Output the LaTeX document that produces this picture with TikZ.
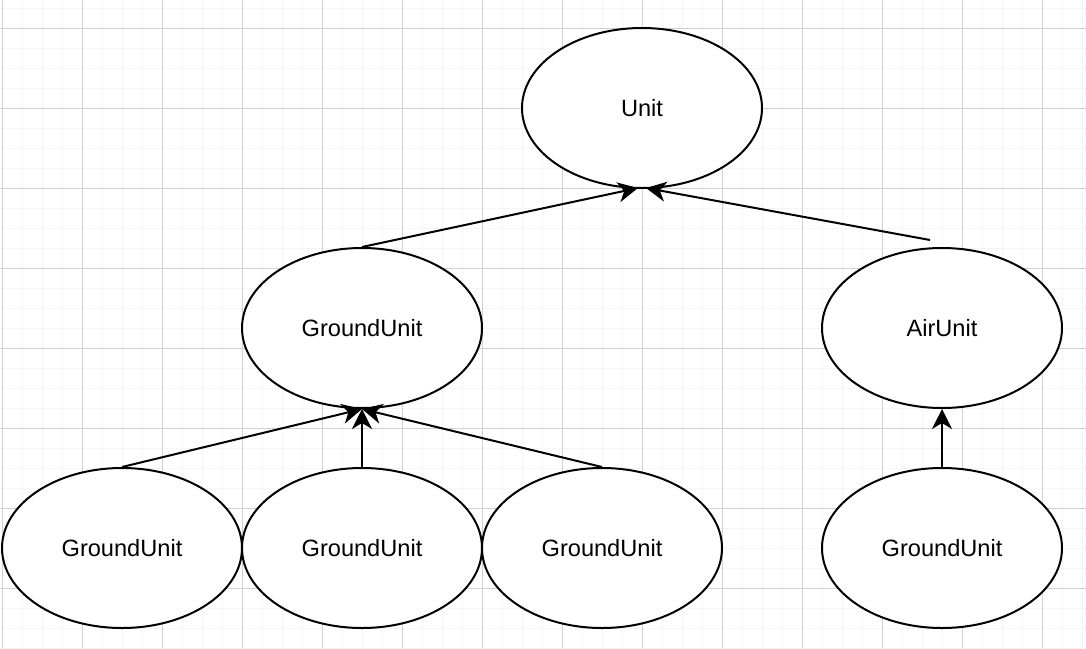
\documentclass[tikz,border=0pt]{standalone}
\usepackage{fontspec}
\setmainfont{Liberation Sans}
\usetikzlibrary{shapes.geometric,arrows.meta}
\definecolor{gridmajor}{HTML}{D0D0D0}
\definecolor{gridminor}{HTML}{F5F5F5}
\begin{document}
\begin{tikzpicture}[x=0.5pt, y=-0.5pt,
  unit/.style={draw, ellipse, line width=1pt, fill=white, inner sep=0pt,
    minimum width=120pt, minimum height=80pt, font=\fontsize{11.8}{14}\selectfont},
  inherit/.style={-{Stealth[length=10pt, width=10pt, inset=3pt]}, line width=1pt}]
\useasboundingbox (0,0) rectangle (1086,648);
\fill[white] (0,0) rectangle (1086,648);

% grid
\foreach \x in {2,22,...,1082}
  \draw[gridminor, line width=0.5pt] (\x,0)--(\x,648);
\foreach \y in {8,28,...,648}
  \draw[gridminor, line width=0.5pt] (0,\y)--(1086,\y);
\foreach \x in {2,82,...,1082}
  \draw[gridmajor, line width=0.5pt] (\x,0)--(\x,648);
\foreach \y in {28,108,...,648}
  \draw[gridmajor, line width=0.5pt] (0,\y)--(1086,\y);

% nodes
\node[unit] (unit) at (642,108) {Unit};
\node[unit] (ground) at (362,328) {GroundUnit};
\node[unit] (air) at (942,328) {AirUnit};
\node[unit] (groundA) at (122,548) {GroundUnit};
\node[unit] (groundB) at (362,548) {GroundUnit};
\node[unit] (groundC) at (602,548) {GroundUnit};
\node[unit] (groundD) at (942,548) {GroundUnit};
\coordinate (airtop) at (930,240);
\coordinate (unitleft) at (638,188);
\coordinate (unitright) at (646,188);

% arrows
\draw[inherit] (ground.north)--(unitleft);
\draw[inherit] (airtop)--(unitright);
\draw[inherit] (groundA.north)--(ground.south);
\draw[inherit] (groundB.north)--(ground.south);
\draw[inherit] (groundC.north)--(ground.south);
\draw[inherit] (groundD.north)--(air.south);
\end{tikzpicture}
\end{document}
